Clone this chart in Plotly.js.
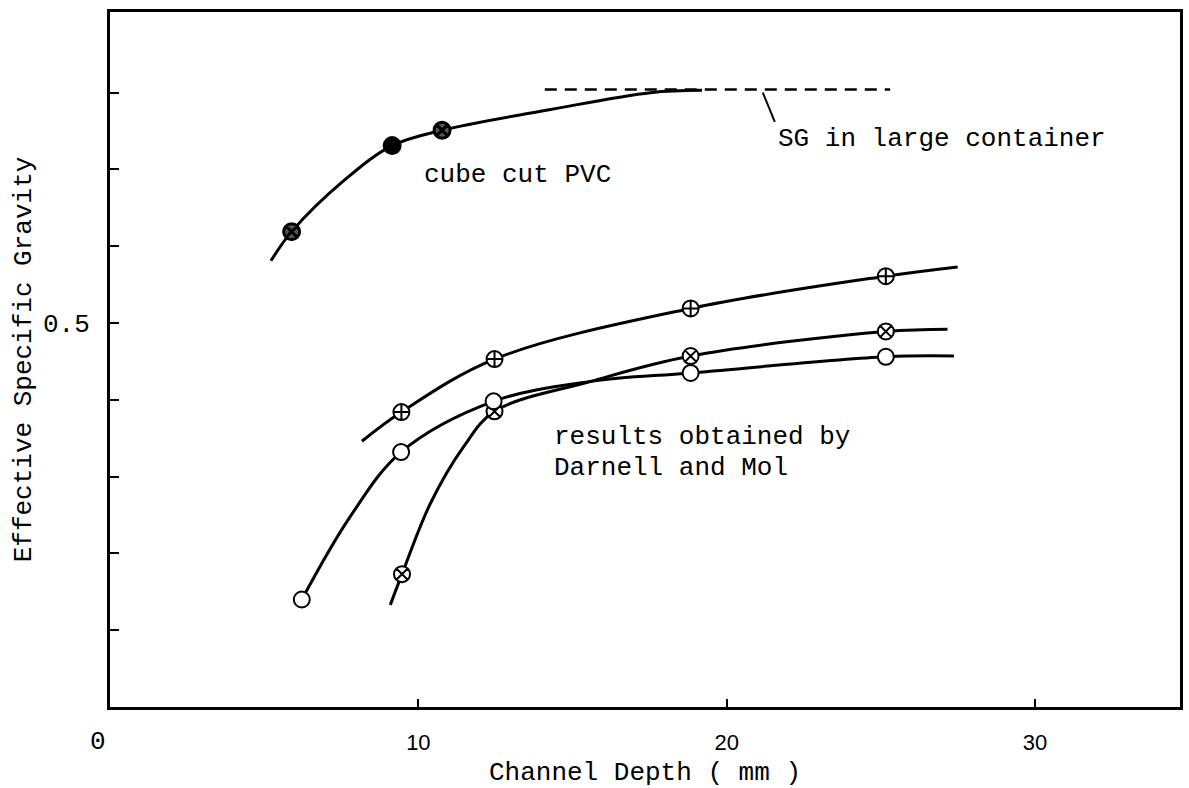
<!DOCTYPE html>
<html>
<head>
<meta charset="utf-8">
<script src="https://cdn.plot.ly/plotly-3.0.1.min.js"></script>
<style>html,body{margin:0;padding:0;background:#fff;}#chart{width:1189px;height:788px;}</style>
</head>
<body>
<div id="chart"></div>
<script>
// Cube cut PVC: measured points and the drawn curve
const pvcX = [5.89, 9.15, 10.77];
const pvcY = [0.619, 0.731, 0.751];
const pvcCurveX = [5.22, 5.89, 7.6, 9.15, 10.77, 14.29, 17.53, 19.2];
const pvcCurveY = [0.581, 0.619, 0.686, 0.731, 0.751, 0.778, 0.800, 0.803];

// SG in large container (dashed reference level)
const sgX = [14.1, 25.3];
const sgY = [0.804, 0.804];

// Darnell and Mol: series with circle-cross markers
const crossX = [9.45, 12.47, 18.83, 25.16];
const crossY = [0.384, 0.453, 0.519, 0.561];
const crossCurveX = [8.17, 9.45, 12.47, 18.83, 25.16, 27.49];
const crossCurveY = [0.346, 0.384, 0.453, 0.519, 0.561, 0.573];

// Darnell and Mol: series with circle-x markers
const xmarkX = [9.47, 12.47, 18.83, 25.16];
const xmarkY = [0.173, 0.385, 0.457, 0.489];
const xmarkCurveX = [9.09, 9.47, 10.39, 11.47, 12.47, 15.6, 18.83, 25.16, 27.16];
const xmarkCurveY = [0.133, 0.173, 0.265, 0.339, 0.385, 0.424, 0.457, 0.489, 0.492];

// Darnell and Mol: series with open circle markers
const openX = [6.22, 9.44, 12.44, 18.83, 25.16];
const openY = [0.140, 0.332, 0.398, 0.435, 0.456];
const openCurveX = [6.22, 7.79, 9.44, 12.44, 15.6, 18.83, 25.16, 27.37];
const openCurveY = [0.140, 0.248, 0.332, 0.398, 0.424, 0.435, 0.456, 0.457];

// Axis ticks
const xTickVals = [0, 10, 20, 30];
const xTickText = ['', '10', '20', '30'];
const yTickVals = [0.1, 0.2, 0.3, 0.4, 0.5, 0.6, 0.7, 0.8];
const yTickText = ['', '', '', '', '0.5', '', '', ''];

const mono = 'Courier New, Liberation Mono, monospace';
const sans = 'Liberation Sans, Arial, sans-serif';

function curve(x, y) {
  return {x: x, y: y, mode: 'lines', type: 'scatter', hoverinfo: 'skip',
          line: {color: '#000', width: 3, shape: 'spline', smoothing: 1}};
}
function pts(x, y, sym, fill, lw) {
  return {x: x, y: y, mode: 'markers', type: 'scatter',
          marker: {symbol: sym, size: 16, color: fill, line: {color: '#000', width: lw}}};
}

const traces = [
  curve(pvcCurveX, pvcCurveY),
  curve(crossCurveX, crossCurveY),
  curve(xmarkCurveX, xmarkCurveY),
  curve(openCurveX, openCurveY),
  {x: sgX, y: sgY, mode: 'lines', type: 'scatter',
   line: {color: '#000', width: 2.5, dash: '12px,8px'}},
  pts(pvcX, pvcY, ['circle-x', 'circle', 'circle-x'], ['#555', '#000', '#555'], 3),
  pts(crossX, crossY, 'circle-cross', '#fff', 2),
  pts(xmarkX, xmarkY, 'circle-x', '#fff', 2),
  pts(openX, openY, 'circle', '#fff', 2)
];

const layout = {
  width: 1189, height: 788,
  margin: {l: 110, r: 9, t: 12, b: 81},
  paper_bgcolor: '#fff', plot_bgcolor: '#fff',
  showlegend: false,
  xaxis: {
    range: [0, 34.7], showgrid: false, zeroline: false,
    showline: true, linecolor: '#000', linewidth: 3, mirror: true,
    ticks: 'inside', ticklen: 8, tickwidth: 2, tickcolor: '#000',
    tickvals: xTickVals, ticktext: xTickText,
    tickfont: {family: sans, size: 22, color: '#000'},
    ticklabelstandoff: 14,
    title: {text: 'Channel Depth ( mm )', font: {family: mono, size: 26, color: '#000'}, standoff: 8}
  },
  yaxis: {
    range: [0, 0.905], showgrid: false, zeroline: false,
    showline: true, linecolor: '#000', linewidth: 3, mirror: true,
    ticks: 'inside', ticklen: 9, tickwidth: 2, tickcolor: '#000',
    tickvals: yTickVals, ticktext: yTickText,
    tickfont: {family: mono, size: 26, color: '#000'},
    ticklabelstandoff: 12,
    title: {text: 'Effective Specific Gravity', font: {family: mono, size: 26, color: '#000'}, standoff: 4}
  },
  annotations: [
    {x: 0, y: 0, xref: 'x', yref: 'y', text: '0', showarrow: false, xshift: -12, yshift: -35,
     font: {family: mono, size: 26, color: '#000'}},
    {x: 10.13, y: 0.693, xref: 'x', yref: 'y', text: 'cube cut PVC', showarrow: false, xanchor: 'left',
     font: {family: mono, size: 26, color: '#000'}},
    {x: 21.6, y: 0.739, xref: 'x', yref: 'y', text: 'SG in large container', showarrow: false, xanchor: 'left',
     font: {family: mono, size: 26, color: '#000'}},
    {x: 14.35, y: 0.351, xref: 'x', yref: 'y', text: 'results obtained by', showarrow: false, xanchor: 'left',
     font: {family: mono, size: 26, color: '#000'}},
    {x: 14.35, y: 0.311, xref: 'x', yref: 'y', text: 'Darnell and Mol', showarrow: false, xanchor: 'left',
     font: {family: mono, size: 26, color: '#000'}}
  ],
  shapes: [
    {type: 'line', xref: 'x', yref: 'y', x0: 21.17, y0: 0.800, x1: 21.56, y1: 0.762,
     line: {color: '#000', width: 2}}
  ]
};

Plotly.newPlot('chart', traces, layout, {displayModeBar: false, staticPlot: true});
</script>
</body>
</html>
